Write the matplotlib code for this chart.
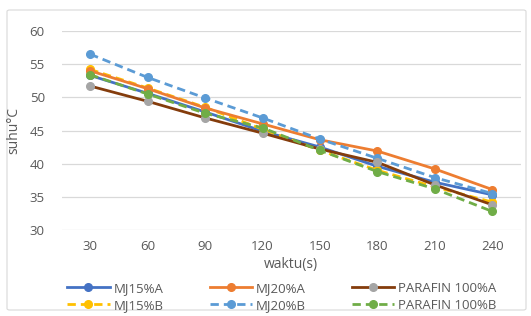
import matplotlib
matplotlib.use("Agg")
import matplotlib.pyplot as plt
from matplotlib.patches import FancyBboxPatch

waktu = [30, 60, 90, 120, 150, 180, 210, 240]
mj15_a = [53.3, 50.6, 47.8, 44.9, 42.5, 39.6, 37.2, 35.3]
mj20_a = [54.0, 51.3, 48.4, 46.0, 43.6, 41.9, 39.2, 36.1]
parafin_a = [51.7, 49.4, 46.9, 44.6, 42.2, 40.2, 36.8, 33.8]
mj15_b = [54.2, 51.4, 48.5, 45.2, 42.0, 39.0, 36.5, 34.2]
mj20_b = [56.5, 53.0, 49.9, 46.9, 43.7, 40.8, 37.9, 35.5]
parafin_b = [53.4, 50.5, 47.6, 45.4, 42.0, 38.8, 36.2, 32.8]

yticks = [30, 35, 40, 45, 50, 55, 60]

plt.rcParams['font.family'] = ['Open Sans', 'DejaVu Sans']
txt = '#595959'

fig = plt.figure(figsize=(5.31, 3.16), dpi=100)
fig.patch.set_facecolor('white')
border = FancyBboxPatch((7/531, 6/316), 519/531, 300/316,
                        boxstyle="round,pad=0,rounding_size=0.005",
                        transform=fig.transFigure, facecolor='white',
                        edgecolor='#D9D9D9', linewidth=0.8, zorder=-10)
fig.patches.append(border)

ax = fig.add_axes([61.5/531, 1 - 230/316, (521 - 61.5)/531, 199/316])
ax.set_facecolor('none')
idx = list(range(len(waktu)))

series = [
    ("MJ15%A", mj15_a, '#4472C4', '#4472C4', '-'),
    ("MJ15%B", mj15_b, '#FFC000', '#FFC000', '--'),
    ("MJ20%A", mj20_a, '#ED7D31', '#ED7D31', '-'),
    ("MJ20%B", mj20_b, '#5B9BD5', '#5B9BD5', '--'),
    ("PARAFIN 100%A", parafin_a, '#843C0C', '#A5A5A5', '-'),
    ("PARAFIN 100%B", parafin_b, '#70AD47', '#70AD47', '--'),
]
handles = []
for name, vals, lc, mc, ls in series:
    h, = ax.plot(idx, vals, color=lc, linestyle=ls, linewidth=2.0,
                 marker='o', markersize=5.5, markerfacecolor=mc,
                 markeredgecolor=mc, label=name)
    if ls == '--':
        h.set_dashes((3, 1.8))
    handles.append(h)

ax.set_xlim(-0.5, len(waktu) - 0.5)
ax.set_ylim(30, 60)
ax.set_yticks(yticks)
ax.set_xticks(idx)
ax.set_xticklabels([str(w) for w in waktu])
ax.grid(axis='y', color='#D9D9D9', linewidth=0.9)
ax.set_axisbelow(True)
for s in ax.spines.values():
    s.set_visible(False)
ax.tick_params(length=0, labelsize=9.5, colors=txt, pad=7)
ax.tick_params(axis='y', pad=12)
ax.set_xlabel('waktu(s)', fontsize=10, color=txt, labelpad=3)
ax.set_ylabel('suhu°C', fontsize=10, color=txt, labelpad=6)

fig.legend(handles=handles, loc='lower center', ncol=3,
           bbox_to_anchor=(282/531, -0.025), frameon=False, fontsize=9.5,
           labelcolor=txt, columnspacing=3.5, handlelength=3.2,
           handletextpad=0.3, labelspacing=0.3)

fig.savefig('out.png', dpi=100)
